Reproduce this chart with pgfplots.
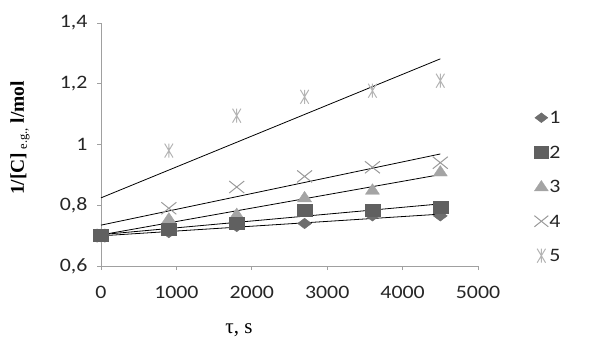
\documentclass[border=0pt]{standalone}
\usepackage{fontspec}
\setmainfont{Liberation Serif}
\newfontfamily\carlito[FakeStretch=1.15]{Carlito}
\usepackage{pgfplots}
\usepackage{pgfplotstable}
\pgfplotsset{compat=1.18}

\definecolor{cA}{HTML}{6E6E6E}
\definecolor{cB}{HTML}{606060}
\definecolor{cC}{HTML}{A4A4A4}
\definecolor{cD}{HTML}{9A9A9A}
\definecolor{cE}{HTML}{B4B4B4}
\definecolor{axgray}{HTML}{A0A0A0}

\pgfdeclareplotmark{xstar}{%
  \pgfpathmoveto{\pgfqpoint{-0.6\pgfplotmarksize}{-\pgfplotmarksize}}%
  \pgfpathlineto{\pgfqpoint{0.6\pgfplotmarksize}{\pgfplotmarksize}}%
  \pgfpathmoveto{\pgfqpoint{-0.6\pgfplotmarksize}{\pgfplotmarksize}}%
  \pgfpathlineto{\pgfqpoint{0.6\pgfplotmarksize}{-\pgfplotmarksize}}%
  \pgfpathmoveto{\pgfqpoint{0pt}{-\pgfplotmarksize}}%
  \pgfpathlineto{\pgfqpoint{0pt}{\pgfplotmarksize}}%
  \pgfusepathqstroke}
\pgfdeclareplotmark{wdiamond}{%
  \pgfpathmoveto{\pgfqpoint{-\pgfplotmarksize}{0pt}}%
  \pgfpathlineto{\pgfqpoint{0pt}{0.75\pgfplotmarksize}}%
  \pgfpathlineto{\pgfqpoint{\pgfplotmarksize}{0pt}}%
  \pgfpathlineto{\pgfqpoint{0pt}{-0.75\pgfplotmarksize}}%
  \pgfpathclose
  \pgfusepathqfillstroke}
\pgfdeclareplotmark{wsquare}{%
  \pgfpathrectangle{\pgfqpoint{-\pgfplotmarksize}{-0.8\pgfplotmarksize}}{\pgfqpoint{2\pgfplotmarksize}{1.6\pgfplotmarksize}}%
  \pgfusepathqfillstroke}
\pgfdeclareplotmark{wtriangle}{%
  \pgfpathmoveto{\pgfqpoint{-\pgfplotmarksize}{-0.6\pgfplotmarksize}}%
  \pgfpathlineto{\pgfqpoint{0pt}{0.9\pgfplotmarksize}}%
  \pgfpathlineto{\pgfqpoint{\pgfplotmarksize}{-0.6\pgfplotmarksize}}%
  \pgfpathclose
  \pgfusepathqfillstroke}
\pgfdeclareplotmark{wx}{%
  \pgfpathmoveto{\pgfqpoint{-\pgfplotmarksize}{-0.8\pgfplotmarksize}}%
  \pgfpathlineto{\pgfqpoint{\pgfplotmarksize}{0.8\pgfplotmarksize}}%
  \pgfpathmoveto{\pgfqpoint{-\pgfplotmarksize}{0.8\pgfplotmarksize}}%
  \pgfpathlineto{\pgfqpoint{\pgfplotmarksize}{-0.8\pgfplotmarksize}}%
  \pgfusepathqstroke}

\pgfplotstableread{
t    s1    s2    s3    s4    s5
0    0.700 0.700 0.700 0.700 0.700
900  0.710 0.720 0.755 0.790 0.980
1800 0.730 0.740 0.770 0.860 1.095
2700 0.740 0.785 0.825 0.895 1.157
3600 0.765 0.783 0.850 0.925 1.177
4500 0.765 0.795 0.910 0.940 1.210
}\data

\begin{document}
\begin{tikzpicture}
\path[use as bounding box] (0,0) rectangle (602pt,338pt);
\begin{axis}[
  at={(101pt,72pt)}, anchor=south west,
  scale only axis, width=377pt, height=243pt,
  xmin=0, xmax=5000, ymin=0.6, ymax=1.4,
  axis x line=bottom, axis y line=left,
  axis line style={-, draw=axgray, line width=0.8pt},
  xtick={0,1000,2000,3000,4000,5000},
  ytick={0.6,0.8,1,1.2,1.4},
  tick align=outside, major tick length=4pt,
  tick style={draw=axgray, line width=0.8pt},
  /pgf/number format/.cd, use comma, 1000 sep={}, assume math mode=true,
  /pgfplots/.cd,
  tick label style={font=\carlito\fontsize{19}{20}\selectfont, text=black!85},
  xticklabel style={yshift=-13pt},
  yticklabel style={xshift=-6pt},
  xlabel={\fontsize{21}{22}\selectfont τ, s},
  xlabel style={at={(axis description cs:0.366,-0.266)}, anchor=center},
  ylabel={\fontsize{19.5}{21}\selectfont\textbf{1/[C]}\,\raisebox{-0.35ex}{\fontsize{12.5}{13}\selectfont e.g.,}\ \textbf{l/mol}},
  ylabel style={at={(axis description cs:-0.215,0.527)}, anchor=center},
  legend style={at={(axis description cs:1.141,0.648)}, anchor=north west,
    draw=none, fill=none,
    row sep=20.5pt, nodes={inner sep=1pt, text height=12pt, text depth=0pt, font=\carlito\fontsize{19}{20}\selectfont, text=black!85},
    cells={anchor=west}},
  clip=false,
]
% legend images in order 1..5
\addlegendimage{only marks, mark=wdiamond, mark size=6.5pt, draw=cA, fill=cA}
\addlegendentry{1}
\addlegendimage{only marks, mark=wsquare, mark size=7pt, draw=cB, fill=cB}
\addlegendentry{2}
\addlegendimage{only marks, mark=wtriangle, mark size=7pt, draw=cC, fill=cC}
\addlegendentry{3}
\addlegendimage{only marks, mark=wx, mark size=7pt, draw=cD, line width=1pt}
\addlegendentry{4}
\addlegendimage{only marks, mark=xstar, mark size=7pt, draw=cE, line width=1pt}
\addlegendentry{5}
% data markers
\addplot[forget plot, only marks, mark=xstar, mark size=7pt, draw=cE, line width=1pt] table[x=t,y=s5] {\data};
\addplot[forget plot, only marks, mark=wx, mark size=7.5pt, draw=cD, line width=1pt] table[x=t,y=s4] {\data};
\addplot[forget plot, only marks, mark=wdiamond, mark size=7pt, draw=cA, fill=cA] table[x=t,y=s1] {\data};
\addplot[forget plot, only marks, mark=wtriangle, mark size=7pt, draw=cC, fill=cC] table[x=t,y=s3] {\data};
\addplot[forget plot, only marks, mark=wsquare, mark size=7.5pt, draw=cB, fill=cB] table[x=t,y=s2] {\data};
% linear trend lines
\addplot[forget plot, black, line width=0.8pt, no markers] table[x=t, y={create col/linear regression={y=s1}}] {\data};
\addplot[forget plot, black, line width=0.8pt, no markers] table[x=t, y={create col/linear regression={y=s2}}] {\data};
\addplot[forget plot, black, line width=0.8pt, no markers] table[x=t, y={create col/linear regression={y=s3}}] {\data};
\addplot[forget plot, black, line width=0.8pt, no markers] table[x=t, y={create col/linear regression={y=s4}}] {\data};
\addplot[forget plot, black, line width=0.8pt, no markers] table[x=t, y={create col/linear regression={y=s5}}] {\data};
\end{axis}
\end{tikzpicture}
\end{document}
